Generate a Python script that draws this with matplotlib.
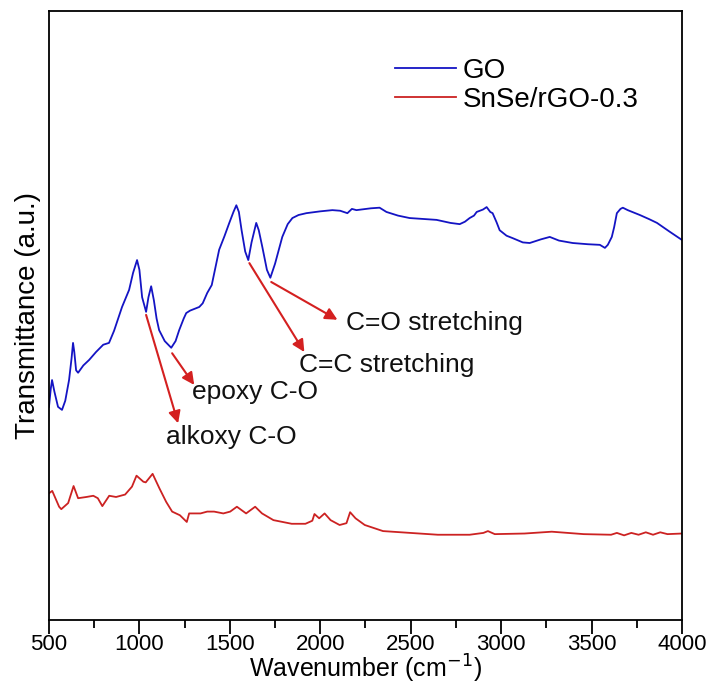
import numpy as np
import matplotlib
matplotlib.use('Agg')
import matplotlib.pyplot as plt

plt.rcParams['font.family'] = ['Liberation Sans', 'DejaVu Sans']

# GO spectrum
go_wn = [500, 510, 517, 530, 550, 572, 590, 611, 625, 633, 640, 650, 661, 690, 722, 760, 800, 832,
         860, 904, 943, 965, 987, 1000, 1015, 1037, 1050, 1065, 1080, 1095, 1109, 1140, 1176, 1200,
         1220, 1245, 1259, 1280, 1331, 1350, 1375, 1400, 1441, 1470, 1497, 1520, 1536, 1550, 1565,
         1585, 1602, 1620, 1646, 1660, 1680, 1705, 1724, 1750, 1790, 1820, 1846, 1880, 1923, 2000,
         2067, 2110, 2150, 2175, 2200, 2280, 2328, 2366, 2430, 2494, 2643, 2720, 2771, 2800, 2826,
         2850, 2865, 2900, 2920, 2940, 2953, 2975, 2992, 3030, 3064, 3120, 3158, 3220, 3269, 3320,
         3396, 3480, 3546, 3574, 3590, 3612, 3625, 3640, 3660, 3673, 3700, 3767, 3820, 3862, 3930, 4000]
go_t = [35.0, 38.0, 39.4, 37.5, 35.0, 34.5, 36.0, 39.4, 43.0, 45.5, 44.0, 41.0, 40.6, 41.8, 42.7, 44.0,
        45.2, 45.5, 47.5, 51.4, 54.2, 57.0, 59.1, 57.5, 53.0, 50.6, 53.0, 54.8, 52.5, 49.5, 47.6, 45.8,
        44.7, 45.8, 47.6, 49.5, 50.4, 50.8, 51.4, 52.0, 53.7, 55.0, 60.8, 63.0, 65.2, 67.0, 68.1, 67.0,
        64.0, 60.5, 59.1, 62.0, 65.2, 64.0, 61.2, 57.5, 56.2, 58.5, 62.9, 65.0, 66.0, 66.5, 66.8, 67.1,
        67.3, 67.2, 66.8, 67.5, 67.3, 67.6, 67.7, 67.0, 66.4, 66.0, 65.7, 65.2, 65.0, 65.4, 66.0, 66.4,
        67.0, 67.4, 67.8, 67.0, 66.8, 65.3, 64.0, 63.1, 62.7, 62.0, 61.9, 62.5, 62.9, 62.3, 61.9, 61.7,
        61.6, 61.1, 61.6, 62.9, 64.5, 66.8, 67.5, 67.7, 67.3, 66.5, 65.8, 65.2, 63.8, 62.4]

# SnSe/rGO-0.3 spectrum
sn_wn = [500, 518, 556, 568, 606, 636, 661, 707, 745, 770, 795, 833, 871, 921, 959, 984, 1022, 1035,
         1073, 1111, 1148, 1181, 1224, 1262, 1275, 1338, 1375, 1413, 1464, 1502, 1539, 1590, 1640,
         1678, 1741, 1842, 1918, 1956, 1968, 1994, 2024, 2057, 2107, 2145, 2165, 2195, 2246, 2347,
         2498, 2650, 2826, 2902, 2927, 2965, 3129, 3280, 3457, 3608, 3640, 3680, 3720, 3760, 3800,
         3840, 3880, 3920, 4000]
sn_t = [20.8, 21.2, 18.6, 18.2, 19.2, 22.0, 20.0, 20.2, 20.4, 20.0, 18.7, 20.4, 20.2, 20.6, 21.9, 23.7,
        22.7, 22.6, 24.0, 21.6, 19.4, 17.8, 17.2, 16.1, 17.5, 17.5, 17.8, 17.8, 17.5, 17.8, 18.6, 17.5,
        18.6, 17.5, 16.4, 15.8, 15.8, 16.3, 17.4, 16.7, 17.5, 16.4, 15.6, 15.9, 17.7, 16.7, 15.6, 14.6,
        14.3, 14.0, 14.0, 14.3, 14.6, 14.1, 14.2, 14.5, 14.1, 14.0, 14.3, 13.9, 14.3, 14.0, 14.4,
        14.0, 14.4, 14.1, 14.2]

labels = ['GO', 'SnSe/rGO-0.3']
colors = ['#1414c4', '#cc2222']

# annotations: text, arrow tail, arrow tip, text position
notes = ['alkoxy C-O', 'epoxy C-O', 'C=C stretching', 'C=O stretching']
tails = [(1037, 50.1), (1181, 43.8), (1608, 58.6), (1729, 55.5)]
tips = [(1214, 32.3), (1303, 38.6), (1912, 44.0), (2095, 49.3)]
text_pos = [(1148, 30.0), (1292, 37.4), (1885, 41.9), (2145, 48.8)]

fig = plt.figure(figsize=(7.15, 6.86), dpi=100)
ax = fig.add_axes([0.0685, 0.0962, 0.8853, 0.8878])

ax.plot(go_wn, go_t, color=colors[0], lw=1.3, label=labels[0])
ax.plot(sn_wn, sn_t, color=colors[1], lw=1.3, label=labels[1])

for t, a, b, p in zip(notes, tails, tips, text_pos):
    ax.annotate('', xy=b, xytext=a,
                arrowprops=dict(arrowstyle='-|>', color='#d42020', lw=1.5,
                                mutation_scale=18, shrinkA=0, shrinkB=0))
    ax.text(p[0], p[1], t, fontsize=19, va='center', ha='left', color='#111111')

ax.set_xlim(500, 4000)
ax.set_ylim(0, 100)
ax.set_xticks(np.arange(500, 4001, 500))
ax.set_xticks(np.arange(750, 4000, 500), minor=True)
ax.set_yticks([])
ax.tick_params(axis='x', which='major', direction='out', length=10, width=1.3, labelsize=16, pad=0)
ax.tick_params(axis='x', which='minor', direction='out', length=6, width=1.3)
for s in ax.spines.values():
    s.set_linewidth(1.3)

ax.set_xlabel('Wavenumber (cm$^{-1}$)', fontsize=18, va='center')
ax.xaxis.set_label_coords(0.5, -0.081)
ax.set_ylabel('Transmittance (a.u.)', fontsize=20, labelpad=6)

leg = ax.legend(loc='upper left', bbox_to_anchor=(395 / 715, 1 - 58 / 686),
                bbox_transform=fig.transFigure, frameon=False, fontsize=20,
                handlelength=2.2, handletextpad=0.25, labelspacing=0.1, borderpad=0,
                borderaxespad=0)

fig.savefig('out.png', dpi=100)
